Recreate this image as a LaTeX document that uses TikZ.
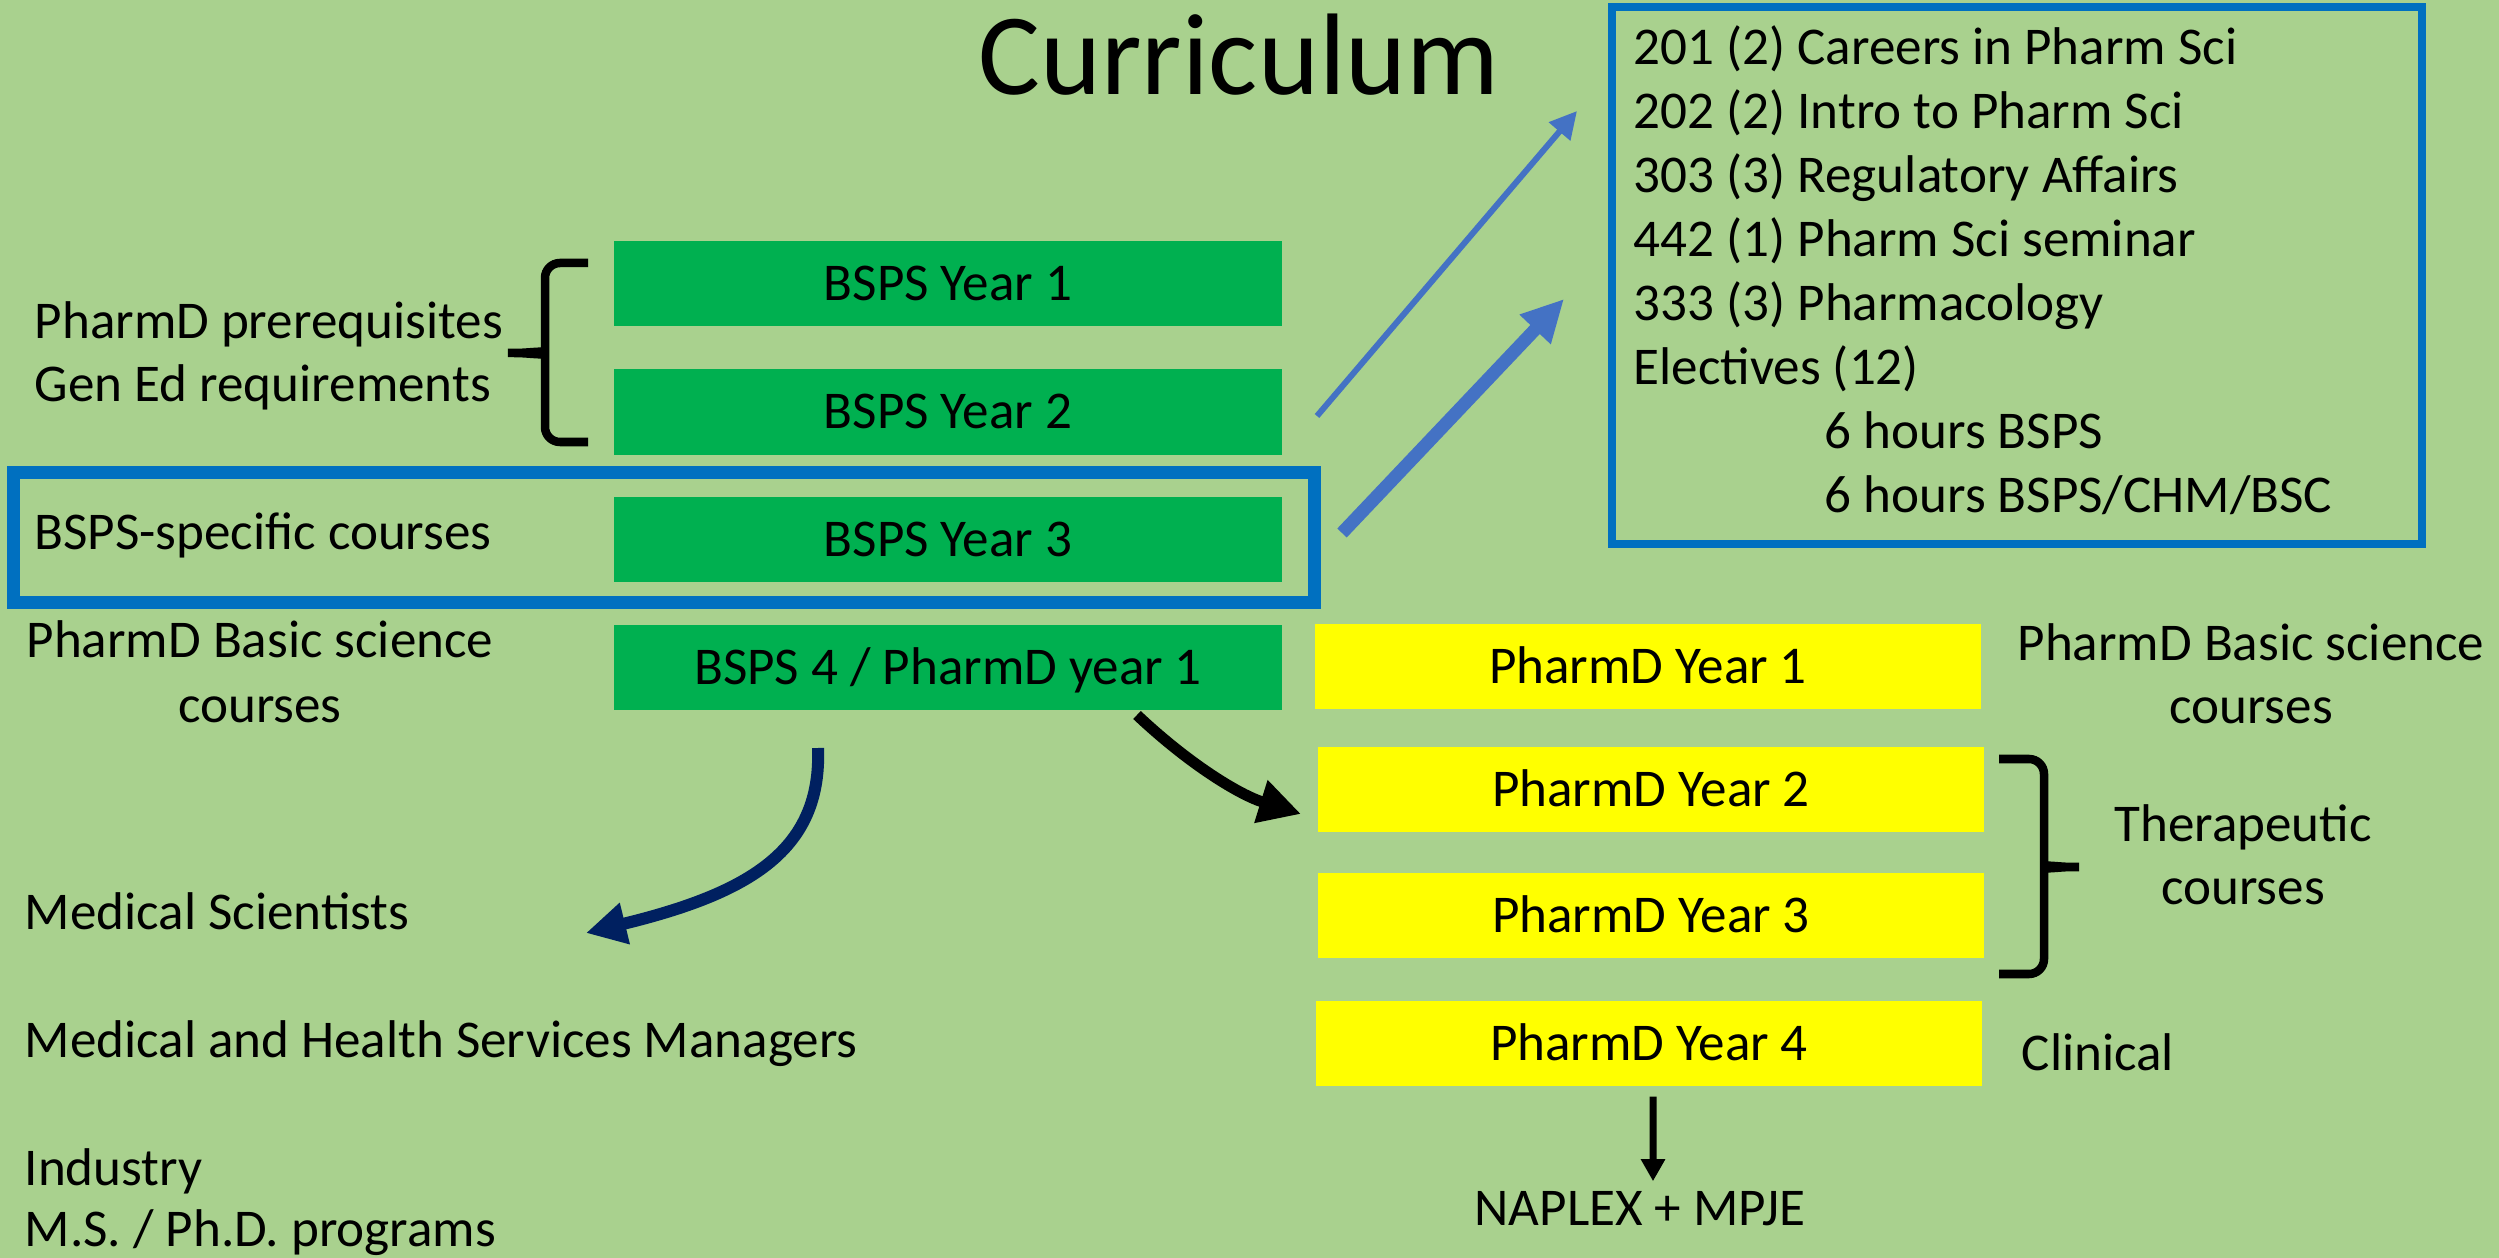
\documentclass[tikz,border=0pt]{standalone}
\usepackage{fontspec}
\setmainfont{Carlito}
\usetikzlibrary{arrows.meta}
\definecolor{slidegreen}{HTML}{A9D18E}
\definecolor{bspsgreen}{HTML}{00B050}
\definecolor{pharmyellow}{HTML}{FFFF00}
\definecolor{frameblue}{HTML}{0070C0}
\definecolor{arrowblue}{HTML}{4472C4}
\definecolor{darknavy}{HTML}{002060}
\newcommand{\bodysize}{\fontsize{15.1pt}{18pt}\selectfont}

\begin{document}
\begin{tikzpicture}[x=0.01cm,y=-0.01cm,
  bsps/.style={fill=bspsgreen, minimum width=6.67cm, minimum height=0.85cm, inner sep=0pt, text height=0.33cm, text depth=0pt, font=\bodysize},
  pharm/.style={fill=pharmyellow, minimum width=6.66cm, minimum height=0.85cm, inner sep=0pt, text height=0.33cm, text depth=0pt, font=\bodysize},
  lbl/.style={inner sep=0pt, font=\bodysize},
  brace/.style={line width=0.085cm, rounded corners=0.15cm}]
\useasboundingbox (0,0) rectangle (2499,1258);
\fill[slidegreen] (0,0) rectangle (2499,1258);

\node[inner sep=0pt, font=\fontsize{33pt}{40pt}\selectfont, anchor=base] (title) at (1239,95) {Curriculum};

% BSPS years
\node[bsps] (bsps1) at (948,283.5) {BSPS Year 1};
\node[bsps] (bsps2) at (948,412) {BSPS Year 2};
\node[bsps] (bsps3) at (948,539.5) {BSPS Year 3};
\node[bsps] (bsps4) at (948,667.5) {BSPS 4 / PharmD year 1};
\node[draw=frameblue, line width=0.13cm, minimum width=13.01cm, minimum height=1.30cm, inner sep=0pt] (specific) at (664,537.5) {};

% PharmD years
\node[pharm] (pharm1) at (1648,666.5) {PharmD Year 1};
\node[pharm] (pharm2) at (1651,789.5) {PharmD Year 2};
\node[pharm] (pharm3) at (1651,915.5) {PharmD Year 3};
\node[pharm] (pharm4) at (1649,1043.5) {PharmD Year 4};

% course list
\node[draw=frameblue, line width=0.08cm, minimum width=8.10cm, minimum height=5.37cm, inner sep=0pt] (electives) at (2017,275.5) {};
\node[lbl, anchor=base west] (c201) at (1633,65) {201 (2) Careers in Pharm Sci};
\node[lbl, anchor=base west] (c202) at (1633,129) {202 (2) Intro to Pharm Sci};
\node[lbl, anchor=base west] (c303) at (1633,193) {303 (3) Regulatory Affairs};
\node[lbl, anchor=base west] (c442) at (1633,257) {442 (1) Pharm Sci seminar};
\node[lbl, anchor=base west] (c333) at (1633,321) {333 (3) Pharmacology};
\node[lbl, anchor=base west] (celec) at (1633,385) {Electives (12)};
\node[lbl, anchor=base west] (celec1) at (1824,449) {6 hours BSPS};
\node[lbl, anchor=base west] (celec2) at (1824,513) {6 hours BSPS/CHM/BSC};

% left side
\node[lbl, anchor=base west] (prereq) at (34,339) {PharmD prerequisites};
\node[lbl, anchor=base west] (gened) at (34,402) {Gen Ed requirements};
\node[lbl, anchor=base west] (bspsonly) at (34,550) {BSPS-specific courses};
\node[lbl, anchor=base] (basicl) at (260,657) {PharmD Basic science};
\node[lbl, anchor=base] (basicl2) at (260,722) {courses};
\node[lbl, anchor=base west] (medsci) at (24,929) {Medical Scientists};
\node[lbl, anchor=base west] (managers) at (24,1057) {Medical and Health Services Managers};
\node[lbl, anchor=base west] (industry) at (24,1185) {Industry};
\node[lbl, anchor=base west] (grad) at (24,1246) {M.S. / Ph.D. programs};

% right side
\node[lbl, anchor=base] (basicr) at (2251,660) {PharmD Basic science};
\node[lbl, anchor=base] (basicr2) at (2251,724) {courses};
\node[lbl, anchor=base] (thera) at (2243,841) {Therapeutic};
\node[lbl, anchor=base] (thera2) at (2243,904) {courses};
\node[lbl, anchor=base west] (clinical) at (2021,1070) {Clinical};
\node[lbl, anchor=base] (naplex) at (1640,1225) {NAPLEX + MPJE};

% braces
\draw[brace] (588,263) -- (545,263) -- (545,338) .. controls (545,350) and (530,353) .. (499,353)
  .. controls (530,353) and (545,356) .. (545,368) -- (545,442) -- (588,442);
\draw[brace] (1999,759) -- (2044,759) -- (2044,852) .. controls (2044,864) and (2058,867) .. (2088,867)
  .. controls (2058,867) and (2044,870) .. (2044,882) -- (2044,974) -- (1999,974);

% arrows
\coordinate (thinfrom) at (1317,416);
\coordinate (thinto) at (1577,111);
\coordinate (thickfrom) at (1342,533);
\coordinate (thickto) at (1564,299);
\coordinate (careerfrom) at (818,748);
\coordinate (careerto) at (586,933);
\coordinate (pharmfrom) at (1137,715);
\coordinate (pharmto) at (1301,814);
\draw[arrowblue, line width=0.06cm, -{Triangle[length=0.27cm,width=0.27cm]}] (thinfrom) -- (thinto);
\draw[arrowblue, line width=0.13cm, -{Triangle[length=0.42cm,width=0.40cm]}] (thickfrom) -- (thickto);
\draw[darknavy, line width=0.12cm, -{Triangle[length=0.40cm,width=0.40cm]}] (careerfrom) .. controls (822,850) and (750,893) .. (careerto);
\draw[black, line width=0.11cm, -{Triangle[length=0.42cm,width=0.42cm]}] (pharmfrom) .. controls (1190,765) and (1240,795) .. (pharmto);
\draw[black, line width=0.07cm, -{Triangle[length=0.22cm,width=0.23cm]}] ([xshift=0.04cm,yshift=-0.1cm]pharm4.south) -- ([xshift=0.13cm,yshift=0.09cm]naplex.north);
\end{tikzpicture}
\end{document}
